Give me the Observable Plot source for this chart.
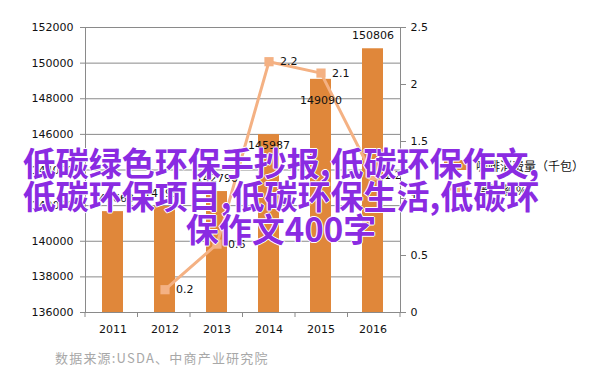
<!DOCTYPE html>
<html>
<head>
<meta charset="utf-8">
<script src="https://cdn.jsdelivr.net/npm/d3@7"></script>
<script src="https://cdn.jsdelivr.net/npm/@observablehq/plot@0.6"></script>
<style>
  html, body { margin: 0; padding: 0; background: #fff; }
  #wrap { position: relative; width: 602px; height: 384px; overflow: hidden; }
  #chart svg { display: block; }
  .legend { position: absolute; left: 443px; font: 12px "Noto Sans CJK SC", sans-serif; color: #111; }
  .legend .item { display: flex; align-items: center; height: 24px; }
  .legend svg { margin-right: 7px; }
  #caption { position: absolute; left: 55px; top: 348px; font: 13px "Noto Sans CJK SC", sans-serif; color: #a8a8a8; letter-spacing: 1.2px; }
  #overlay { position: absolute; left: 16px; top: 146px; width: 530px; text-align: center;
    font: 700 33px/33px "Noto Sans CJK SC", sans-serif; color: #8a2be2; white-space: nowrap;
    text-shadow: 1px 0 0 #fff, -1px 0 0 #fff, 0 1px 0 #fff, 0 -1px 0 #fff; }
</style>
</head>
<body>
<div id="wrap">
  <div id="chart"></div>
  <div class="legend" id="legend" style="top:153px"></div>
  <div id="caption"></div>
  <div id="overlay"></div>
</div>
<script>
const years = ["2011", "2012", "2013", "2014", "2015", "2016"];
const consumption = [141663, 141951, 142790, 145987, 149090, 150806];
const growthYears = ["2012", "2013", "2014", "2015", "2016"];
const growth = [0.2, 0.6, 2.2, 2.1, 1.2];
const leftTicks = [136000, 138000, 140000, 142000, 144000, 146000, 148000, 150000, 152000];
const rightTicks = [0, 0.5, 1, 1.5, 2, 2.5];
const seriesNames = ["咖啡消费量（千包）", "增长率(%)"];
const captionText = "数据来源:USDA、中商产业研究院";
const overlayLines = ["低碳绿色环保手抄报,低碳环保作文,", "低碳环保项目,低碳环保生活,低碳环", "保作文400字"];

const barColor = "#e0873a";
const lineColor = "#f4b183";
const gridColor = "#8a8a8a";

const yMin = 136000, yMax = 152000, rMax = 2.5;
const toLeft = v => yMin + v * (yMax - yMin) / rMax;

const barData = years.map((year, i) => ({year, value: consumption[i]}));
const lineData = growthYears.map((year, i) => ({year, g: growth[i]}));

// label vertical offsets (style only)
const barLabelDy = [-13, -13, -13, 11, 21, -13];

const bottomTicks = (index, scales, values, dims) => {
  const g = d3.create("svg:g").attr("stroke", gridColor);
  const left = dims.marginLeft, right = dims.width - dims.marginRight;
  const yb = dims.height - dims.marginBottom;
  const n = years.length;
  for (let i = 0; i <= n; i++) {
    const xx = left + i * (right - left) / n;
    g.append("line").attr("x1", xx).attr("x2", xx).attr("y1", yb).attr("y2", yb + 5);
  }
  return g.node();
};

const dyGroups = [...new Set(barLabelDy)];

const chart = Plot.plot({
  width: 602,
  height: 384,
  marginLeft: 85,
  marginRight: 202,
  marginTop: 27,
  marginBottom: 72,
  style: {fontFamily: "DejaVu Sans, sans-serif", fontSize: "11px", color: "#111", background: "transparent"},
  x: {type: "band", domain: years, paddingInner: 0.6, paddingOuter: 0.3, label: null},
  y: {domain: [yMin, yMax], label: null},
  marks: [
    Plot.gridY(leftTicks, {stroke: gridColor, strokeOpacity: 1}),
    Plot.barY(barData, {x: "year", y1: () => yMin, y2: "value", fill: barColor}),
    Plot.frame({stroke: gridColor}),
    Plot.axisY(leftTicks, {anchor: "left", tickSize: 5, tickPadding: 7, stroke: gridColor, tickFormat: d3.format("d"), label: null}),
    Plot.axisY(rightTicks.map(toLeft), {anchor: "right", tickSize: 5, tickPadding: 5, stroke: gridColor,
      tickFormat: d => String(Math.round((d - yMin) / (yMax - yMin) * rMax * 10) / 10), label: null}),
    Plot.axisX({tickSize: 0, tickPadding: 13, label: null}),
    bottomTicks,
    Plot.line(lineData, {x: "year", y: d => toLeft(d.g), stroke: lineColor, strokeWidth: 3}),
    Plot.dot(lineData, {x: "year", y: d => toLeft(d.g), symbol: "square", r: 5.2, fill: lineColor, stroke: "none"}),
    ...dyGroups.map(dy => Plot.text(barData.filter((d, i) => barLabelDy[i] === dy),
      {x: "year", y: "value", text: d => String(d.value), dy, fill: "#111"})),
    Plot.text(lineData, {x: "year", y: d => toLeft(d.g), text: d => String(d.g), textAnchor: "start", dx: 11, fill: "#111"})
  ]
});
document.getElementById("chart").appendChild(chart);

// legend
const legend = document.getElementById("legend");
seriesNames.forEach((name, i) => {
  const item = document.createElement("div");
  item.className = "item";
  const sw = d3.create("svg").attr("width", 26).attr("height", 12);
  if (i === 0) {
    sw.append("rect").attr("x", 1).attr("y", 1).attr("width", 24).attr("height", 10).attr("fill", barColor);
  } else {
    sw.append("line").attr("x1", 1).attr("x2", 25).attr("y1", 6).attr("y2", 6).attr("stroke", lineColor).attr("stroke-width", 3);
    sw.append("rect").attr("x", 9).attr("y", 2).attr("width", 8).attr("height", 8).attr("fill", lineColor);
  }
  item.appendChild(sw.node());
  const span = document.createElement("span");
  span.textContent = name;
  item.appendChild(span);
  legend.appendChild(item);
});

document.getElementById("caption").textContent = captionText;
const ov = document.getElementById("overlay");
overlayLines.forEach(t => { const d = document.createElement("div"); d.textContent = t; ov.appendChild(d); });
</script>
</body>
</html>
